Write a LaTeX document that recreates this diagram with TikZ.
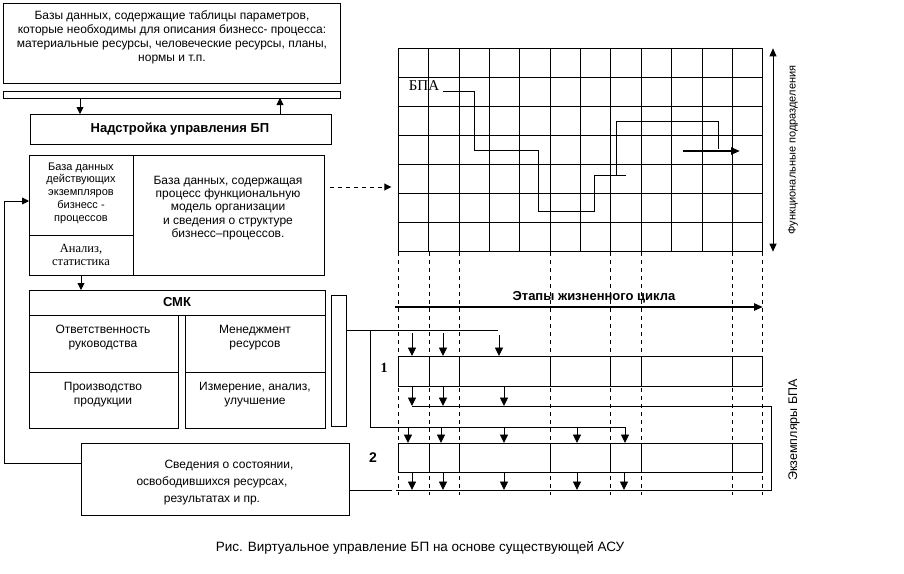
\documentclass[tikz,border=0pt]{standalone}
\usepackage{fontspec}
\setmainfont{Liberation Sans}
\newfontfamily\serifru{Liberation Serif}
\usetikzlibrary{arrows.meta}
\newcommand\mkbox[5]{\node[boxst, minimum width={(#4)-(#2)}, minimum height={(#5)-(#3)}] (#1) at ({((#2)+(#4))/2},{((#3)+(#5))/2}) {};}
\begin{document}
\begin{tikzpicture}[x=1pt,y=-1pt,
  line width=0.9pt,
  boxst/.style={draw, line width=0.9pt, inner sep=0pt, outer sep=0pt},
  txt/.style={font=\fontsize{12}{14}\selectfont, align=center, inner sep=0pt},
  boldtxt/.style={font=\fontsize{13}{15}\selectfont\bfseries, align=center, inner sep=0pt},
  sertxt/.style={font=\serifru\fontsize{12.5}{13}\selectfont, align=center, inner sep=0pt},
  arr/.style={-{Triangle[length=7pt,width=7pt]}},
  arrb/.style={-{Triangle[length=8.5pt,width=8pt]}},
  darr/.style={dash pattern=on 4pt off 4pt, -{Triangle[length=7pt,width=7pt]}},
  vdash/.style={dash pattern=on 4pt off 4pt, line width=0.8pt}]
\useasboundingbox (0,0) rectangle (904,573);

% ---------- top database box ----------
\mkbox{topdb}{3}{3}{340}{83}
\node[txt] (toptxt) at (172,37) {Базы данных, содержащие таблицы параметров,\\которые необходимы для описания бизнесс- процесса:\\материальные ресурсы, человеческие ресурсы, планы,\\нормы и т.п.};
\mkbox{bar}{3}{91}{340}{98}
\mkbox{nad}{30}{114}{331}{144}
\node[boldtxt] (nadtxt) at (180,129) {Надстройка управления БП};
\coordinate (c80) at (80,0);
\coordinate (c280) at (280,0);
\draw[arr] (bar.south -| c80) -- (nad.north -| c80);
\draw[arr] (nad.north -| c280) -- (bar.south -| c280);

% ---------- middle database box ----------
\mkbox{midL}{29}{155}{133}{235}
\mkbox{midA}{29}{235}{133}{275}
\mkbox{midR}{133}{155}{324}{275}
\node[txt, font=\fontsize{11}{12.8}\selectfont] (midLtxt) at (81,193) {База данных\\действующих\\экземпляров\\бизнесс -\\процессов};
\node[sertxt] (midAtxt) at (81,255) {Анализ,\\статистика};
\node[txt, font=\fontsize{12}{13.3}\selectfont] (midRtxt) at (228,208) {База данных, содержащая\\процесс функциональную\\модель организации\\и сведения о структуре\\бизнесс--процессов.};

% ---------- SMK ----------
\mkbox{smkH}{29}{290}{325}{315}
\node[boldtxt] (smktxt) at (177,302) {СМК};
\mkbox{smk1}{29}{315}{178}{372}
\mkbox{smk2}{29}{372}{178}{428}
\mkbox{smk3}{185}{315}{325}{372}
\mkbox{smk4}{185}{372}{325}{428}
\node[txt] (smk1t) at (103,338) {Ответственность\\руководства};
\node[txt] (smk2t) at (103,395) {Производство\\продукции};
\node[txt] (smk3t) at (255,338) {Менеджмент\\ресурсов};
\node[txt] (smk4t) at (255,395) {Измерение, анализ,\\улучшение};
\mkbox{narrow}{331}{295}{346}{426}
\draw[arr] (midA.south) -- (midA.south |- smkH.north);

% ---------- Svedeniya box ----------
\mkbox{sved}{81}{443}{349}{515}
\node[txt, font=\fontsize{12}{17}\selectfont] (svedtxt) at (212,483) {\hspace*{34pt}Сведения о состоянии,\\освободившихся ресурсах,\\результатах и пр.};
\coordinate (fbB) at (4,463);
\coordinate (fbT) at (4,201);
\draw[arr] (sved.west |- fbB) -- (fbB) -- (fbT) -- (midL.west |- fbT);

% ---------- grid ----------
\mkbox{grid}{398.3}{48.3}{762.7}{251.7}
\foreach \i in {1,...,11}
  \draw ([xshift={\i*30.37}]grid.north west) -- ([xshift={\i*30.37}]grid.south west);
\foreach \j in {1,...,6}
  \draw ([yshift={-\j*29.06}]grid.north west) -- ([yshift={-\j*29.06}]grid.north east);
\coordinate (cd) at (0,187);
\draw[darr, shorten <=6pt, shorten >=7pt] (midR.east |- cd) -- (grid.west |- cd);
\draw[{Triangle[length=8pt,width=7pt]}-{Triangle[length=8pt,width=7pt]}] ([xshift=10.3pt]grid.north east) -- ([xshift=10.3pt]grid.south east);
\node[txt, rotate=90, font=\fontsize{11}{12}\selectfont] (funclbl) at (793,150) {Функциональные подразделения};

% BPA path
\node[sertxt, font=\serifru\fontsize{15}{16}\selectfont] (bpa) at (424,86) {БПА};
\draw (443,91) -- (474,91) -- (474,150) -- (538,150) -- (538,211) -- (594,211) -- (594,175) -- (626,175);
\draw (616,175) -- (616,121) -- (718,121) -- (718,149);
\draw[line width=2.2pt, -{Triangle[length=9pt,width=7pt]}] (683,151) -- (740,151);

% ---------- life-cycle stages ----------
\foreach \x in {398.3,429,459.3,550.7,610.7,641.3,732.3,762.7}
  \draw[vdash] (\x,252) -- (\x,495);
\node[boldtxt] (stagetxt) at (594,297) {Этапы жизненного цикла};
\coordinate (e1) at (395,307);
\coordinate (e2) at (763,307);
\draw[line width=2.4pt, -{Triangle[length=9pt,width=7pt]}] (e1) -- (e2);

% bands
\mkbox{band1}{398.3}{356}{762.7}{386}
\mkbox{band2}{398.3}{443}{762.7}{472}
\foreach \x in {429,459.3,550.7,610.7,641.3,732.3} {
  \draw (\x,356) -- (\x,386);
  \draw (\x,443) -- (\x,472);
}
\node[sertxt, font=\serifru\fontsize{14}{15}\selectfont\bfseries] (n1) at (384,368) {1};
\node[boldtxt, font=\fontsize{14}{15}\selectfont\bfseries] (n2) at (373,458) {2};
\node[txt, rotate=90, font=\fontsize{12.5}{14}\selectfont] (exlbl) at (794,430) {Экземпляры БПА};

% connectors from narrow box
\coordinate (k1) at (498,330);
\coordinate (v1) at (370,330);
\coordinate (v2) at (370,427);
\coordinate (h2) at (625,427);
\draw (narrow.east |- k1) -- (k1);
\draw (v1) -- (v2) -- (h2);
\draw[arrb] (h2) -- (h2 |- band2.north);

% arrows above band 1
\foreach \x/\y in {412/333, 443/333, 499/335} {
  \coordinate (ta) at (\x,\y);
  \draw[arrb] (ta) -- (ta |- band1.north);
}
% arrows below band 1 and loop line
\coordinate (L1) at (0,406);
\foreach \x in {412,443,504} {
  \coordinate (tb) at (\x,0);
  \draw[arrb] (band1.south -| tb) -- (tb |- L1);
}
\coordinate (l1) at (412,406);
\coordinate (r1) at (771,406);
\coordinate (r2) at (771,490);
\coordinate (l2) at (396,490);
\coordinate (l3) at (392,490);
\draw (l1) -- (r1) -- (r2) -- (l2);
\draw (l3) -- (sved.east |- l3);

% arrows into band 2
\foreach \x in {408,441,504,577} {
  \coordinate (tc) at (\x,427);
  \draw[arrb] (tc) -- (tc |- band2.north);
}
% arrows below band 2
\foreach \x in {412,443,504,577,624} {
  \coordinate (td) at (\x,0);
  \draw[arrb] (band2.south -| td) -- (td |- l2);
}

% caption
\node[txt, font=\fontsize{13.5}{15}\selectfont] (caption) at (420,548) {Рис. Виртуальное управление БП на основе существующей АСУ};
\end{tikzpicture}
\end{document}
